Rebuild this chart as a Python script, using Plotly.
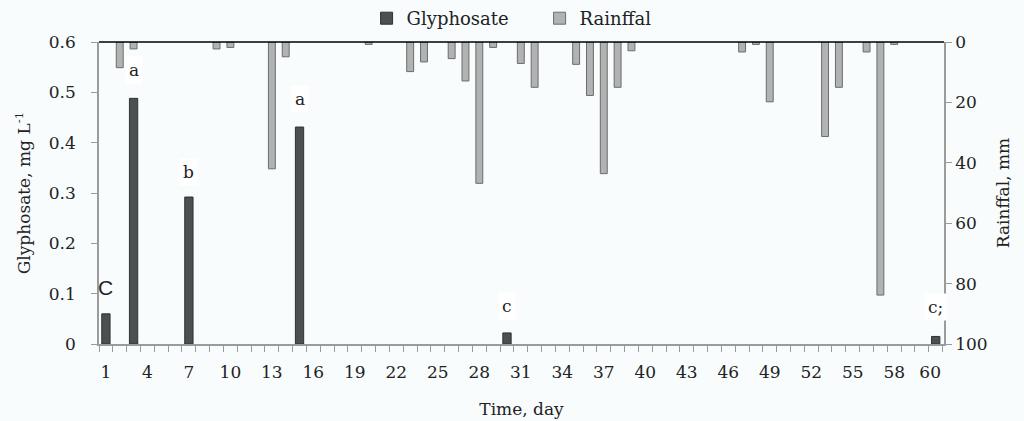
import plotly.graph_objects as go

# Data
glyph_days = [1, 3, 7, 15, 30, 61]
glyph_vals = [0.06, 0.488, 0.292, 0.431, 0.022, 0.015]

rain_days = [2, 3, 9, 10, 13, 14, 20, 23, 24, 26, 27, 28, 29, 31, 32, 35, 36, 37, 38, 39,
             47, 48, 49, 53, 54, 56, 57, 58]
rain_vals = [8.5, 2.3, 2.3, 1.8, 42.0, 4.9, 0.8, 9.8, 6.6, 5.5, 12.9, 46.8, 1.8, 7.1, 15.0,
             7.4, 17.7, 43.6, 15.0, 2.9, 3.3, 0.8, 19.8, 31.3, 15.0, 3.3, 83.8, 0.8]

tick_labels = ["1", "4", "7", "10", "13", "16", "19", "22", "25", "28", "31", "34", "37",
               "40", "43", "46", "49", "52", "55", "58", "60"]
tick_pos = [1, 4, 7, 10, 13, 16, 19, 22, 25, 28, 31, 34, 37, 40, 43, 46, 49, 52, 55, 58, 60.6]

letters = ["C", "a", "b", "a", "c", "c;"]
letter_y = [0.113, 0.544, 0.341, 0.486, 0.075, 0.073]

FONT = "DejaVu Serif"
BG = "#f8fcfd"
AX = "#9a9c9c"

fig = go.Figure()
fig.add_trace(go.Bar(
    x=glyph_days, y=glyph_vals, name="Glyphosate", width=0.6,
    marker=dict(color="#4c5050", line=dict(color="#2f3232", width=1)),
    yaxis="y"))
fig.add_trace(go.Bar(
    x=rain_days, y=rain_vals, name="Rainffal", width=0.5,
    marker=dict(color="#b1b3b3", line=dict(color="#6a6d6d", width=1)),
    yaxis="y2"))

for d, t, yv in zip(glyph_days, letters, letter_y):
    fig.add_annotation(
        x=d, y=yv, xref="x", yref="y", text=t, showarrow=False,
        font=dict(family=("Liberation Sans" if t == "C" else FONT),
                  size=(21 if t == "C" else 17), color="#222"),
        bgcolor="white" if t != "C" else "rgba(0,0,0,0)", borderpad=3)

fig.add_shape(type="line", xref="paper", yref="paper", x0=0, x1=1, y0=1, y1=1,
              line=dict(color="black", width=1.5))

fig.update_layout(
    width=1024, height=421,
    margin=dict(l=99, r=80, t=42, b=77, autoexpand=False),
    paper_bgcolor=BG, plot_bgcolor=BG,
    barmode="overlay",
    font=dict(family=FONT, size=17, color="#222"),
    showlegend=True,
    legend=dict(orientation="h", x=0.358, xanchor="left", y=1.0, yanchor="top",
                xref="container", yref="container",
                bgcolor="rgba(0,0,0,0)", font=dict(size=18), entrywidth=128),
    xaxis=dict(
        range=[0.5, 61.6], showgrid=False, zeroline=False,
        showline=True, linecolor=AX, linewidth=1.5,
        tickmode="array", tickvals=tick_pos, ticktext=tick_labels, ticks="",
        ticklabelstandoff=12,
        minor=dict(ticks="outside", tick0=0.5, dtick=1, ticklen=6, tickcolor=AX, showgrid=False),
        title=dict(text="Time, day", font=dict(size=17), standoff=22),
    ),
    yaxis=dict(
        range=[0, 0.6], showgrid=False, zeroline=False,
        showline=True, linecolor=AX, linewidth=1.5,
        ticks="outside", ticklen=6, tickcolor=AX,
        tickvals=[0, 0.1, 0.2, 0.3, 0.4, 0.5, 0.6],
        ticktext=["0", "0.1", "0.2", "0.3", "0.4", "0.5", "0.6"],
        ticklabelstandoff=12,
        title=dict(text="Glyphosate, mg L<sup>-1</sup>", font=dict(size=17), standoff=14),
    ),
    yaxis2=dict(
        overlaying="y", side="right", range=[100, 0], dtick=20,
        showgrid=False, zeroline=False,
        showline=True, linecolor=AX, linewidth=1.5,
        ticks="outside", ticklen=6, tickcolor=AX,
        title=dict(text="Rainffal, mm", font=dict(size=17), standoff=10),
    ),
)

fig.write_html("out.html")
